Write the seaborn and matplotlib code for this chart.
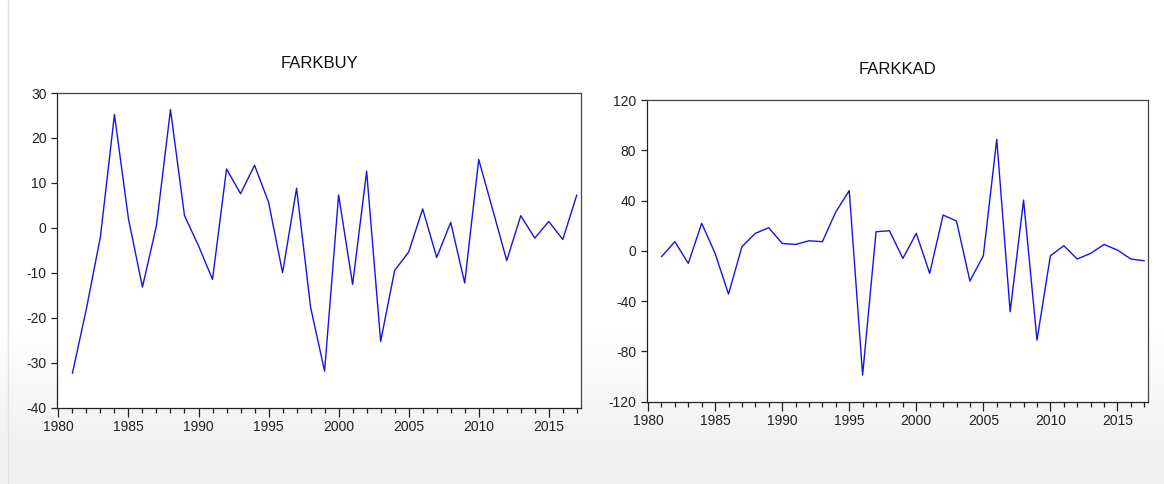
import numpy as np
import pandas as pd
import matplotlib
matplotlib.use("Agg")
import matplotlib.pyplot as plt
import seaborn as sns
from matplotlib.ticker import MultipleLocator

years = list(range(1981, 2018))

farkbuy = [-32.4, -18.0, -2.0, 25.2, 2.0, -13.2, 0.5, 26.3, 2.7, -4.0,
           -11.5, 13.1, 7.6, 13.9, 5.7, -10.0, 8.8, -17.7, -31.9, 7.3,
           -12.6, 12.6, -25.3, -9.5, -5.4, 4.2, -6.6, 1.2, -12.3, 15.2,
           4.0, -7.3, 2.7, -2.3, 1.4, -2.6, 7.3]

farkkad = [-4.7, 7.3, -10.0, 21.9, -2.0, -34.4, 3.3, 13.9, 18.4, 5.9,
           5.1, 8.0, 7.3, 31.0, 47.9, -98.8, 15.2, 16.0, -6.0, 13.9,
           -17.9, 28.5, 23.7, -24.0, -3.9, 88.7, -48.4, 40.4, -71.0, -3.9,
           4.1, -6.5, -2.0, 5.1, 0.6, -6.5, -7.9]

df = pd.DataFrame({"year": years, "FARKBUY": farkbuy, "FARKKAD": farkkad})

sns.set_theme(style="ticks")
plt.rcParams["font.family"] = ["Liberation Sans", "DejaVu Sans"]
plt.rcParams["axes.unicode_minus"] = False

W, H = 1164, 484
fig = plt.figure(figsize=(W / 100, H / 100), dpi=100)
fig.patch.set_facecolor("white")

# soft grey backdrop fading in toward the bottom of the window
bg = fig.add_axes([0, 0, 1, 1], zorder=-10)
rows = np.arange(H)
shade = np.clip((rows - 330) / 110.0, 0, 1)
col = 1.0 - shade * (1.0 - 0.945)
img = np.repeat(col[:, None], 4, axis=1)
bg.imshow(np.dstack([img, img, img]), aspect="auto", extent=[0, 1, 0, 1],
          origin="upper", interpolation="bilinear")
bg.plot([8 / W, 8 / W], [0, 1], color="#e2e2e2", lw=1)
bg.set_xlim(0, 1)
bg.set_ylim(0, 1)
bg.axis("off")


def px_axes(x0, x1, top, bottom):
    return fig.add_axes([x0 / W, 1 - bottom / H, (x1 - x0) / W, (bottom - top) / H])


panels = [
    ("FARKBUY", px_axes(57, 581, 93, 407.5), (-40, 30), 10, 18.0),
    ("FARKKAD", px_axes(646.7, 1148.3, 100, 401.7), (-120, 120), 40, 18.7),
]

for name, ax, ylim, ystep, tpad in panels:
    ax.set_facecolor("white")
    sns.lineplot(data=df, x="year", y=name, ax=ax, color="#1414e6",
                 linewidth=1.0, legend=False)
    ax.set_xlim(1979.9, 2017.3)
    ax.set_ylim(*ylim)
    ax.xaxis.set_major_locator(MultipleLocator(5))
    ax.xaxis.set_minor_locator(MultipleLocator(1))
    ax.yaxis.set_major_locator(MultipleLocator(ystep))
    ax.set_xlabel("")
    ax.set_ylabel("")
    ax.set_title(name, fontsize=12, pad=tpad, color="#111111")
    ax.tick_params(axis="y", which="major", direction="out", length=4.3,
                   width=0.9, labelsize=10, colors="#222222", pad=3.2)
    ax.tick_params(axis="x", which="major", direction="out", length=6.5,
                   width=0.9, labelsize=10, colors="#222222", pad=2.5)
    ax.tick_params(axis="x", which="minor", direction="out", length=3.8,
                   width=0.9, colors="#222222")
    ax.tick_params(axis="y", which="minor", left=False)
    for side, sp in ax.spines.items():
        sp.set_visible(True)
        sp.set_linewidth(0.9)
        sp.set_color("#222222" if side in ("left", "bottom") else "#444444")

fig.savefig("out.png", dpi=100)
